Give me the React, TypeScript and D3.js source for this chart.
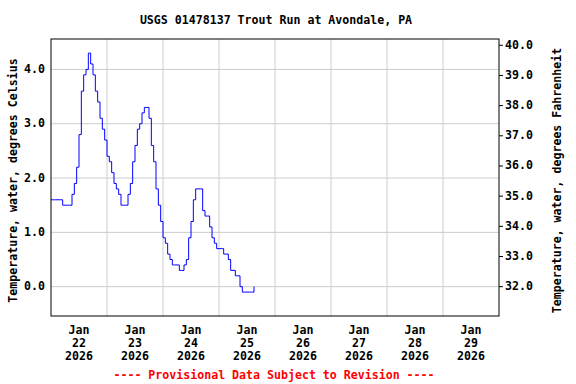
import React from "react";
import * as d3 from "d3";

const TITLE = "USGS 01478137 Trout Run at Avondale, PA";
const Y_LEFT_LABEL = "Temperature, water, degrees Celsius";
const Y_RIGHT_LABEL = "Temperature, water, degrees Fahrenheit";
const FOOTER = "---- Provisional Data Subject to Revision ----";

// hourly readings starting 2026-01-22 00:00 (deg C)
const startTime = new Date(2026, 0, 22, 0, 0);
const tempC = [
  1.6, 1.6, 1.6, 1.6, 1.6, 1.5, 1.5, 1.5, 1.5, 1.7,
  1.9, 2.2, 2.8, 3.6, 3.9, 4.0, 4.3, 4.1, 3.9, 3.6,
  3.4, 3.1, 2.9, 2.7, 2.4, 2.3, 2.1, 1.9, 1.8, 1.7,
  1.5, 1.5, 1.5, 1.7, 1.9, 2.3, 2.6, 2.9, 3.0, 3.2,
  3.3, 3.3, 3.1, 2.6, 2.3, 1.8, 1.5, 1.2, 0.9, 0.8,
  0.6, 0.5, 0.4, 0.4, 0.4, 0.3, 0.3, 0.4, 0.5, 0.9,
  1.2, 1.6, 1.8, 1.8, 1.8, 1.4, 1.3, 1.3, 1.1, 0.9,
  0.8, 0.7, 0.7, 0.7, 0.6, 0.6, 0.5, 0.3, 0.3, 0.2,
  0.2, 0.0, -0.1, -0.1, -0.1, -0.1, -0.1, 0.0,
];

const celsiusTicks = [0, 1, 2, 3, 4];
const fahrenheitTicks = [32, 33, 34, 35, 36, 37, 38, 39, 40];
const dayTicks = ["2026-01-22", "2026-01-23", "2026-01-24", "2026-01-25", "2026-01-26", "2026-01-27", "2026-01-28", "2026-01-29"];
const monthLabel = "Jan";

const W = 576;
const H = 384;
const M = { left: 51, right: 499, top: 39, bottom: 316 };
const FONT = "'DejaVu Sans Mono', 'Liberation Mono', monospace";
const FS = 11.6;

export default function App() {
  const x = d3
    .scaleTime()
    .domain([new Date(2026, 0, 22), new Date(2026, 0, 30)])
    .range([M.left, M.right]);
  const y = d3.scaleLinear().domain([-0.54, 4.56]).range([M.bottom, M.top]);
  const yF = (f: number) => y((f - 32) / 1.8);

  const data = tempC.map((v, i) => ({ t: d3.timeHour.offset(startTime, i), v }));
  const line = d3
    .line<{ t: Date; v: number }>()
    .x((d) => x(d.t))
    .y((d) => y(d.v))
    .curve(d3.curveStepAfter);

  const days = dayTicks.map((s) => {
    const [yy, mm, dd] = s.split("-").map(Number);
    return new Date(yy, mm - 1, dd);
  });
  const gridDays = d3.timeDay.range(new Date(2026, 0, 23), new Date(2026, 0, 30));

  const midY = (M.top + M.bottom) / 2 + 3;

  return (
    <svg
      width={W}
      height={H}
      style={{ position: "absolute", left: 0, top: 0, background: "#fff" }}
      fontFamily={FONT}
      fontWeight="bold"
      fontSize={FS}
    >
      <rect x={0} y={0} width={W} height={H} fill="#fff" />
      <text x={(M.left + M.right) / 2 + 1} y={20} textAnchor="middle" dominantBaseline="middle" fill="#000">
        {TITLE}
      </text>

      {/* grid */}
      {gridDays.map((d, i) => (
        <line key={"gx" + i} x1={x(d)} x2={x(d)} y1={M.top} y2={M.bottom} stroke="#cccccc" strokeWidth={1} />
      ))}
      {celsiusTicks.map((c) => (
        <line key={"gy" + c} x1={M.left} x2={M.right} y1={y(c)} y2={y(c)} stroke="#cccccc" strokeWidth={1} />
      ))}

      {/* data line */}
      <path d={line(data) || ""} fill="none" stroke="#0000ff" strokeWidth={1} />

      {/* frame */}
      <rect x={M.left} y={M.top} width={M.right - M.left} height={M.bottom - M.top} fill="none" stroke="#000" strokeWidth={1} />

      {/* left axis labels */}
      {celsiusTicks.map((c) => (
        <text key={"lc" + c} x={45} y={y(c)} textAnchor="end" dominantBaseline="middle" fill="#000">
          {c.toFixed(1)}
        </text>
      ))}

      {/* right axis */}
      {fahrenheitTicks.map((f) => (
        <g key={"rf" + f}>
          <line x1={M.right} x2={M.right + 4} y1={yF(f)} y2={yF(f)} stroke="#000" strokeWidth={1} />
          <text x={505} y={yF(f)} textAnchor="start" dominantBaseline="middle" fill="#000">
            {f.toFixed(1)}
          </text>
        </g>
      ))}

      {/* x labels */}
      {days.map((d, i) => {
        const cx = x(d3.timeHour.offset(d, 12));
        return (
          <g key={"xl" + i} fill="#000" textAnchor="middle">
            <text x={cx} y={330} dominantBaseline="middle">{monthLabel}</text>
            <text x={cx} y={343} dominantBaseline="middle">{d3.timeFormat("%d")(d)}</text>
            <text x={cx} y={356} dominantBaseline="middle">{d3.timeFormat("%Y")(d)}</text>
          </g>
        );
      })}

      {/* axis titles */}
      <text
        transform={`translate(13,${midY}) rotate(-90)`}
        textAnchor="middle"
        dominantBaseline="middle"
        fill="#000"
      >
        {Y_LEFT_LABEL}
      </text>
      <text
        transform={`translate(557,${midY}) rotate(-90)`}
        textAnchor="middle"
        dominantBaseline="middle"
        fill="#000"
      >
        {Y_RIGHT_LABEL}
      </text>

      <text x={274} y={375} textAnchor="middle" dominantBaseline="middle" fill="#ff0000">
        {FOOTER}
      </text>
    </svg>
  );
}
